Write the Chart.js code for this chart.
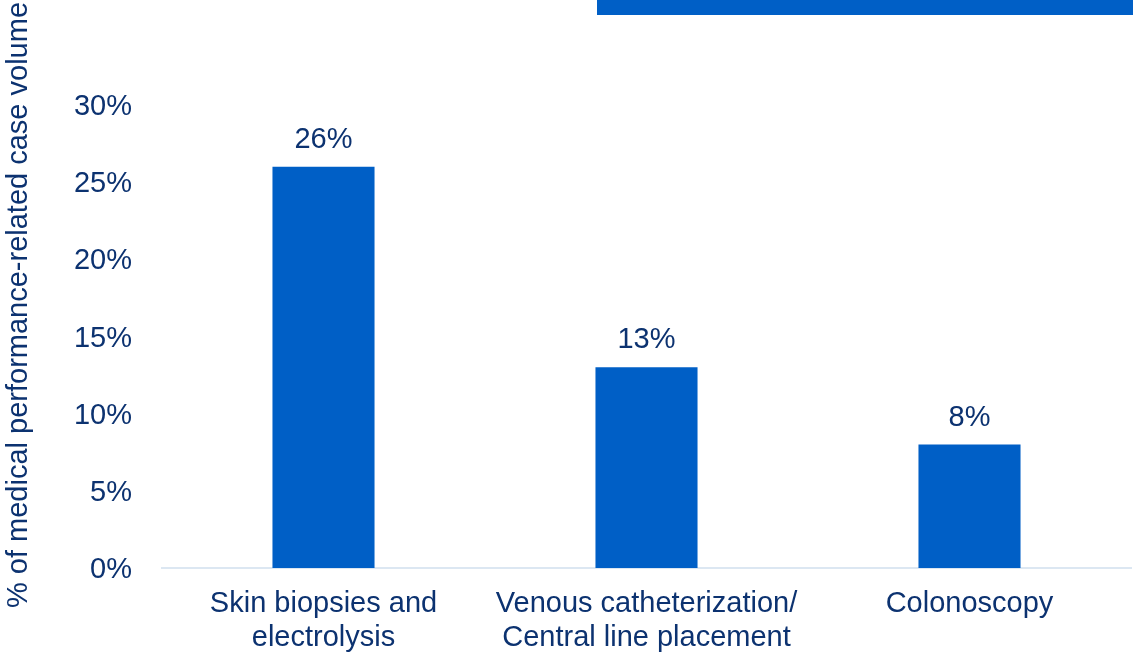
<!DOCTYPE html>
<html lang="en">
<head>
<meta charset="utf-8">
<title>Case volume</title>
<script src="https://cdn.jsdelivr.net/npm/chart.js"></script>
<style>
    body { margin: 0; background: #ffffff; }
    #wrap { position: relative; width: 1133px; height: 652px; }
</style>
</head>
<body>
<div id="wrap">
    <canvas id="caseChart" width="1133" height="652"></canvas>
</div>
<script>
const categories = [
    ['Skin biopsies and', 'electrolysis'],
    ['Venous catheterization/', 'Central line placement'],
    'Colonoscopy'
];
const shares = [26, 13, 8];
const yTicks = [0, 5, 10, 15, 20, 25, 30];
const yTitle = '% of medical performance-related case volume';

const BLUE = '#005fc6';
const NAVY = '#0c3270';
const FONT = "'Liberation Sans', Arial, sans-serif";

// blue band across the top right + rotated axis title
const decor = {
    id: 'decor',
    beforeDraw(chart) {
        const ctx = chart.ctx;
        ctx.save();
        ctx.fillStyle = '#ffffff';
        ctx.fillRect(0, 0, chart.width, chart.height);
        ctx.fillStyle = BLUE;
        ctx.fillRect(597, 0, chart.width - 597, 15);
        ctx.restore();
    },
    afterDraw(chart) {
        const ctx = chart.ctx;
        ctx.save();
        ctx.translate(19, 305);
        ctx.rotate(-Math.PI / 2);
        ctx.font = '29px ' + FONT;
        ctx.fillStyle = NAVY;
        ctx.textAlign = 'center';
        ctx.textBaseline = 'middle';
        ctx.fillText(yTitle, 0, 0);
        ctx.restore();
    }
};

// value labels above each bar
const barLabels = {
    id: 'barLabels',
    afterDatasetsDraw(chart) {
        const ctx = chart.ctx;
        const meta = chart.getDatasetMeta(0);
        ctx.save();
        ctx.font = '29px ' + FONT;
        ctx.fillStyle = NAVY;
        ctx.textAlign = 'center';
        ctx.textBaseline = 'alphabetic';
        meta.data.forEach(function (bar, i) {
            ctx.fillText(shares[i] + '%', bar.x, bar.y - 19);
        });
        ctx.restore();
    }
};

const config = {
    type: 'bar',
    data: {
        labels: categories,
        datasets: [{
            data: shares,
            backgroundColor: BLUE,
            barPercentage: 0.316,
            categoryPercentage: 1
        }]
    },
    options: {
        responsive: false,
        animation: false,
        layout: { padding: { top: 105, right: 2, bottom: 0, left: 0 } },
        plugins: {
            legend: { display: false },
            tooltip: { enabled: false }
        },
        scales: {
            x: {
                grid: { display: false, drawTicks: false },
                border: { display: true, color: '#dce7f2', width: 2 },
                ticks: {
                    color: NAVY,
                    font: { family: FONT, size: 29, lineHeight: 1.18 },
                    padding: 19,
                    maxRotation: 0,
                    autoSkip: false
                },
                afterFit(scale) { scale.height = 84; }
            },
            y: {
                min: 0,
                max: 30,
                afterBuildTicks(scale) {
                    scale.ticks = yTicks.map(v => ({ value: v }));
                },
                grid: { display: false, drawTicks: false },
                border: { display: false },
                ticks: {
                    color: NAVY,
                    font: { family: FONT, size: 29 },
                    padding: 30,
                    labelOffset: 2,
                    callback: v => v + '%'
                },
                afterFit(scale) { scale.width = 162; }
            }
        }
    },
    plugins: [decor, barLabels]
};

new Chart(document.getElementById('caseChart'), config);
</script>
</body>
</html>
